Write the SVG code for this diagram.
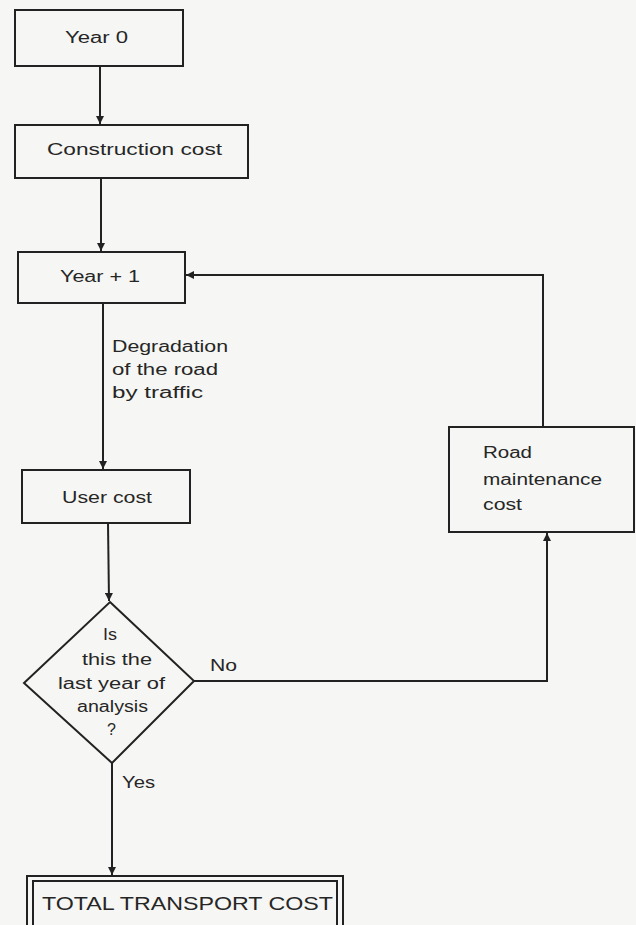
<svg xmlns="http://www.w3.org/2000/svg" width="636" height="925" viewBox="0 0 636 925">
  <style>
    .box { fill: none; stroke: #222; stroke-width: 2; }
    .con { fill: none; stroke: #222; stroke-width: 2; }
    .t { font-family: "Liberation Sans", "DejaVu Sans", sans-serif; font-size: 16px; fill: #262626; }
    .big { font-size: 19px; }
  </style>
  <defs>
    <marker id="arr" viewBox="0 0 10 10" refX="10" refY="5" markerWidth="4.5" markerHeight="4" orient="auto" markerUnits="strokeWidth">
      <path d="M0,0 L10,5 L0,10 Z" fill="#222"/>
    </marker>
  </defs>
  <rect x="0" y="0" width="636" height="925" fill="#f6f6f4"/>

  <g id="connectors">
    <line class="con" x1="100" y1="66" x2="100" y2="124" marker-end="url(#arr)"/>
    <line class="con" x1="101" y1="178" x2="101" y2="251" marker-end="url(#arr)"/>
    <line class="con" x1="103" y1="303" x2="103" y2="469" marker-end="url(#arr)"/>
    <line class="con" x1="108" y1="523" x2="109" y2="601" marker-end="url(#arr)"/>
    <line class="con" x1="112" y1="763" x2="112" y2="875" marker-end="url(#arr)"/>
    <polyline class="con" points="194,681 547,681 547,533" marker-end="url(#arr)"/>
    <polyline class="con" points="543,427 543,275 186,275" marker-end="url(#arr)"/>
    <text class="t" x="112" y="352" textLength="116" lengthAdjust="spacingAndGlyphs">Degradation</text>
    <text class="t" x="112" y="375" textLength="106" lengthAdjust="spacingAndGlyphs">of the road</text>
    <text class="t" x="112" y="398" textLength="91" lengthAdjust="spacingAndGlyphs">by traffic</text>
    <text class="t" x="210" y="671" textLength="27" lengthAdjust="spacingAndGlyphs">No</text>
    <text class="t" x="122" y="788" textLength="33" lengthAdjust="spacingAndGlyphs">Yes</text>
  </g>

  <g id="year0">
    <rect class="box" x="15" y="10" width="168" height="56"/>
    <text class="t" x="65" y="43" textLength="63" lengthAdjust="spacingAndGlyphs">Year 0</text>
  </g>

  <g id="construction">
    <rect class="box" x="15" y="125" width="233" height="53"/>
    <text class="t" x="47" y="155" textLength="175" lengthAdjust="spacingAndGlyphs">Construction cost</text>
  </g>

  <g id="year1">
    <rect class="box" x="18" y="252" width="167" height="51"/>
    <text class="t" x="60" y="282" textLength="80" lengthAdjust="spacingAndGlyphs">Year + 1</text>
  </g>

  <g id="usercost">
    <rect class="box" x="22" y="470" width="168" height="53"/>
    <text class="t" x="62" y="503" textLength="90" lengthAdjust="spacingAndGlyphs">User cost</text>
  </g>

  <g id="maintenance">
    <rect class="box" x="449" y="427" width="185" height="105"/>
    <text class="t" x="483" y="458" textLength="49" lengthAdjust="spacingAndGlyphs">Road</text>
    <text class="t" x="483" y="485" textLength="119" lengthAdjust="spacingAndGlyphs">maintenance</text>
    <text class="t" x="483" y="510" textLength="39" lengthAdjust="spacingAndGlyphs">cost</text>
  </g>

  <g id="decision">
    <polygon class="box" points="110,602 194,681 112,763 24,683"/>
    <text class="t" x="103" y="640" textLength="14" lengthAdjust="spacingAndGlyphs">Is</text>
    <text class="t" x="82" y="665" textLength="70" lengthAdjust="spacingAndGlyphs">this the</text>
    <text class="t" x="58" y="689" textLength="107" lengthAdjust="spacingAndGlyphs">last year of</text>
    <text class="t" x="77" y="712" textLength="71" lengthAdjust="spacingAndGlyphs">analysis</text>
    <text class="t" x="107" y="735">?</text>
  </g>

  <g id="total">
    <rect class="box" x="27" y="876" width="316" height="60"/>
    <rect class="box" x="33" y="881" width="304" height="50"/>
    <text class="t big" x="42" y="910" textLength="291" lengthAdjust="spacingAndGlyphs">TOTAL TRANSPORT COST</text>
  </g>
</svg>
